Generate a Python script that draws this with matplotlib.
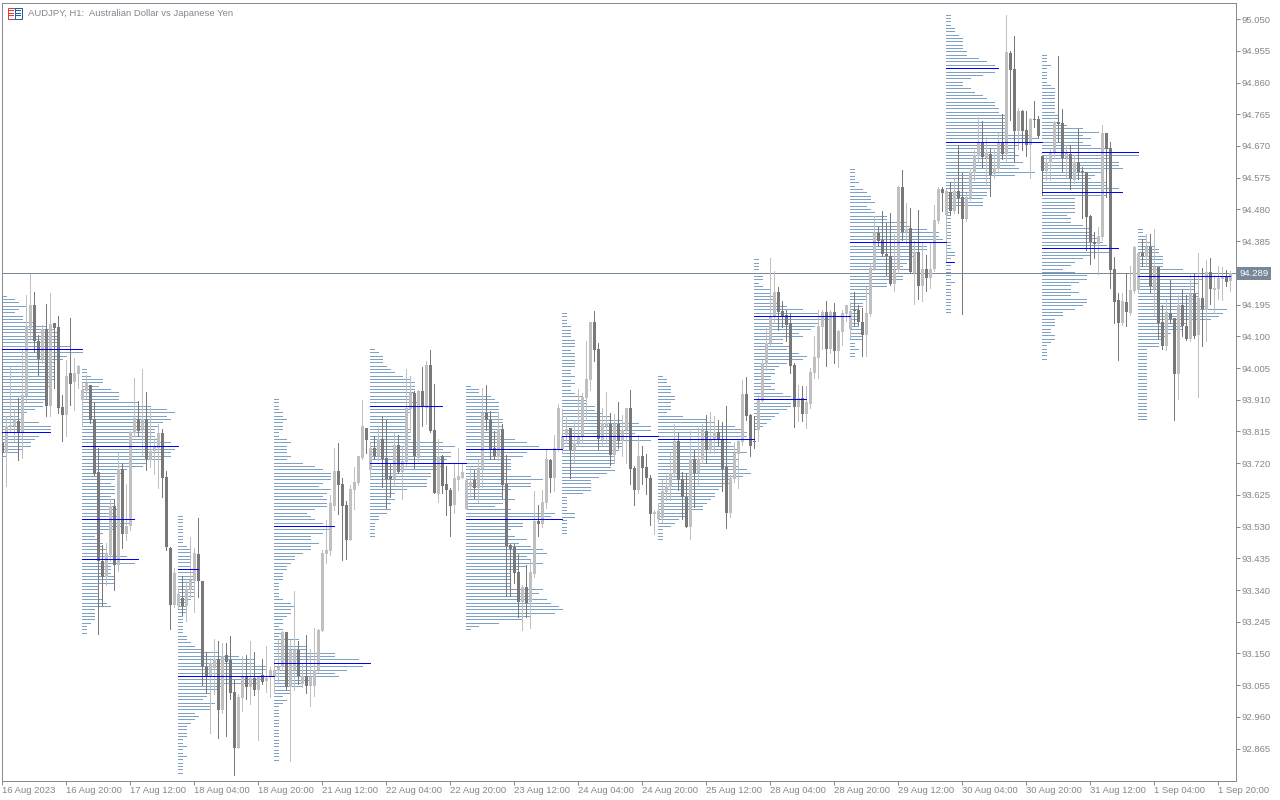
import matplotlib
matplotlib.use('Agg')
import matplotlib.pyplot as plt
from matplotlib.patches import Rectangle

plt.rcParams['font.family'] = ['Liberation Sans', 'DejaVu Sans']

# candle data, one hourly bar per entry
opens = [
    93.78, 93.75, 93.83, 93.83, 93.847, 93.81, 93.922, 94.125, 94.195, 94.087,
    94.032, 94.122, 93.89, 94.14, 94.129, 93.889, 93.865, 93.991, 93.962, 93.988,
    93.91, 93.937, 93.955, 93.852, 93.694, 93.428, 93.378, 93.446, 93.592, 93.416,
    93.702, 93.509, 93.531, 93.81, 93.853, 93.822, 93.852, 93.73, 93.755, 93.765,
    93.811, 93.679, 93.466, 93.296, 93.293, 93.316, 93.291, 93.341, 93.366, 93.449,
    93.368, 93.111, 93.081, 93.106, 93.133, 92.981, 93.146, 93.129, 93.035, 92.867,
    93.017, 93.081, 93.051, 93.078, 93.041, 93.085, 93.069, 93.081, 93.081, 93.099,
    93.111, 93.215, 93.049, 93.101, 93.161, 93.06, 93.083, 93.053, 93.053, 93.101,
    93.216, 93.449, 93.458, 93.592, 93.697, 93.658, 93.595, 93.49, 93.64, 93.661,
    93.736, 93.826, 93.70, 93.766, 93.74, 93.792, 93.736, 93.681, 93.672, 93.775,
    93.694, 93.724, 93.883, 93.93, 93.735, 93.937, 93.885, 94.015, 93.82, 93.628,
    93.742, 93.658, 93.64, 93.595, 93.67, 93.676, 93.583, 93.65, 93.67, 93.645,
    93.702, 93.87, 93.85, 93.766, 93.738, 93.823, 93.658, 93.475, 93.47, 93.394,
    93.305, 93.35, 93.303, 93.387, 93.547, 93.538, 93.60, 93.73, 93.676, 93.762,
    93.762, 93.805, 93.825, 93.758, 93.78, 93.798, 93.915, 93.97, 94.142, 94.063,
    93.79, 93.83, 93.838, 93.745, 93.838, 93.787, 93.818, 93.886, 93.706, 93.64,
    93.742, 93.709, 93.676, 93.568, 93.552, 93.555, 93.635, 93.65, 93.688, 93.787,
    93.672, 93.62, 93.528, 93.733, 93.69, 93.728, 93.817, 93.76, 93.79, 93.814,
    93.793, 93.71, 93.57, 93.672, 93.748, 93.784, 93.928, 93.865, 93.786, 93.82,
    93.907, 94.018, 94.08, 94.159, 94.233, 94.177, 94.163, 94.139, 94.014, 93.888,
    93.915, 93.867, 93.897, 93.989, 94.035, 94.129, 94.173, 94.062, 94.173, 94.056,
    94.113, 94.167, 94.122, 94.179, 94.179, 94.143, 94.104, 94.167, 94.302, 94.41,
    94.389, 94.347, 94.341, 94.257, 94.299, 94.548, 94.413, 94.425, 94.289, 94.353,
    94.251, 94.302, 94.275, 94.302, 94.446, 94.542, 94.464, 94.531, 94.475, 94.535,
    94.518, 94.451, 94.515, 94.588, 94.64, 94.68, 94.633, 94.647, 94.585, 94.601,
    94.68, 94.646, 94.949, 94.901, 94.715, 94.775, 94.718, 94.673, 94.75, 94.75,
    94.64, 94.595, 94.618, 94.649, 94.741, 94.739, 94.635, 94.646, 94.569, 94.621,
    94.593, 94.591, 94.46, 94.383, 94.376, 94.398, 94.709, 94.664, 94.301, 94.21,
    94.14, 94.204, 94.17, 94.237, 94.238, 94.35, 94.338, 94.367, 94.242, 94.307,
    94.142, 94.07, 94.17, 94.155, 93.988, 94.195, 94.132, 94.093, 94.228, 94.105,
    94.216, 94.18, 94.294, 94.24, 94.243, 94.272, 94.282, 94.265,
]
closes = [
    93.75, 93.83, 93.835, 93.848, 93.81, 93.924, 94.13, 94.195, 94.085, 94.032,
    94.122, 93.89, 94.137, 94.125, 93.886, 93.865, 93.982, 93.958, 93.991, 94.012,
    93.94, 93.96, 93.85, 93.688, 93.428, 93.378, 93.451, 93.592, 93.416, 93.702,
    93.509, 93.531, 93.813, 93.855, 93.817, 93.852, 93.732, 93.757, 93.767, 93.811,
    93.676, 93.468, 93.296, 93.391, 93.329, 93.291, 93.343, 93.371, 93.451, 93.366,
    93.109, 93.081, 93.123, 93.133, 92.981, 93.143, 93.126, 93.033, 92.867, 93.021,
    93.081, 93.051, 93.078, 93.041, 93.081, 93.066, 93.078, 93.101, 93.101, 93.111,
    93.213, 93.049, 93.161, 93.161, 93.083, 93.083, 93.053, 93.081, 93.101, 93.219,
    93.451, 93.461, 93.60, 93.697, 93.655, 93.592, 93.49, 93.643, 93.664, 93.74,
    93.832, 93.79, 93.766, 93.742, 93.792, 93.732, 93.672, 93.672, 93.775, 93.694,
    93.727, 93.885, 93.93, 93.74, 93.935, 93.888, 94.015, 93.817, 93.631, 93.742,
    93.652, 93.64, 93.592, 93.675, 93.682, 93.694, 93.67, 93.665, 93.646, 93.705,
    93.87, 93.85, 93.763, 93.74, 93.823, 93.655, 93.472, 93.463, 93.39, 93.305,
    93.35, 93.30, 93.393, 93.547, 93.538, 93.603, 93.733, 93.676, 93.765, 93.885,
    93.80, 93.823, 93.758, 93.78, 93.80, 93.918, 93.973, 94.142, 94.06, 93.792,
    93.84, 93.84, 93.745, 93.838, 93.785, 93.82, 93.886, 93.703, 93.64, 93.742,
    93.706, 93.676, 93.568, 93.574, 93.578, 93.638, 93.652, 93.69, 93.787, 93.67,
    93.618, 93.528, 93.733, 93.69, 93.732, 93.82, 93.76, 93.79, 93.814, 93.79,
    93.703, 93.57, 93.675, 93.75, 93.787, 93.928, 93.862, 93.772, 93.784, 93.91,
    94.02, 94.08, 94.16, 94.233, 94.173, 94.159, 94.134, 94.011, 93.888, 93.915,
    93.867, 93.903, 93.993, 94.039, 94.131, 94.173, 94.062, 94.173, 94.056, 94.116,
    94.169, 94.194, 94.176, 94.176, 94.143, 94.104, 94.169, 94.305, 94.409, 94.386,
    94.347, 94.339, 94.257, 94.299, 94.548, 94.413, 94.42, 94.293, 94.353, 94.251,
    94.302, 94.276, 94.302, 94.449, 94.542, 94.53, 94.534, 94.475, 94.535, 94.515,
    94.451, 94.518, 94.591, 94.643, 94.68, 94.638, 94.653, 94.583, 94.603, 94.68,
    94.646, 94.952, 94.898, 94.715, 94.775, 94.715, 94.673, 94.751, 94.747, 94.70,
    94.595, 94.621, 94.651, 94.741, 94.737, 94.635, 94.648, 94.571, 94.623, 94.591,
    94.591, 94.458, 94.381, 94.377, 94.40, 94.709, 94.661, 94.298, 94.203, 94.141,
    94.205, 94.172, 94.24, 94.367, 94.35, 94.34, 94.367, 94.25, 94.307, 94.14,
    94.07, 94.174, 94.152, 93.988, 94.195, 94.13, 94.093, 94.228, 94.102, 94.216,
    94.182, 94.294, 94.242, 94.245, 94.275, 94.278, 94.262, 94.29,
]
highs = [
    93.78, 93.862, 94.01, 93.88, 93.915, 94.06, 94.225, 94.288, 94.233, 94.105,
    94.135, 94.198, 94.23, 94.14, 94.162, 93.925, 94.03, 94.156, 94.036, 94.015,
    93.964, 93.985, 93.955, 93.904, 93.765, 93.476, 93.481, 93.612, 93.612, 93.75,
    93.72, 93.658, 93.816, 93.976, 93.907, 94.003, 93.934, 93.885, 93.795, 93.838,
    93.823, 93.697, 93.47, 93.406, 93.345, 93.381, 93.366, 93.499, 93.466, 93.556,
    93.368, 93.154, 93.135, 93.193, 93.186, 93.181, 93.18, 93.201, 93.071, 93.03,
    93.141, 93.146, 93.186, 93.154, 93.081, 93.134, 93.171, 93.111, 93.13, 93.191,
    93.216, 93.215, 93.191, 93.338, 93.186, 93.12, 93.206, 93.163, 93.227, 93.223,
    93.461, 93.551, 93.625, 93.766, 93.781, 93.676, 93.607, 93.655, 93.709, 93.742,
    93.91, 93.826, 93.781, 93.80, 93.826, 93.859, 93.85, 93.718, 93.811, 93.805,
    93.77, 94.003, 93.982, 93.937, 93.94, 94.009, 94.027, 94.06, 93.958, 93.793,
    93.745, 93.712, 93.645, 93.718, 93.766, 93.72, 93.675, 93.705, 93.70, 93.73,
    93.946, 93.955, 93.877, 93.817, 93.874, 93.838, 93.745, 93.478, 93.478, 93.448,
    93.355, 93.415, 93.43, 93.637, 93.595, 93.64, 93.76, 93.733, 93.805, 93.898,
    93.882, 93.862, 93.825, 93.848, 93.943, 93.93, 94.085, 94.142, 94.177, 94.081,
    93.885, 93.934, 93.87, 93.868, 93.904, 93.865, 93.886, 93.94, 93.712, 93.805,
    93.772, 93.748, 93.685, 93.58, 93.60, 93.67, 93.685, 93.75, 93.838, 93.81,
    93.694, 93.69, 93.817, 93.76, 93.825, 93.838, 93.865, 93.872, 93.86, 93.85,
    93.844, 93.892, 93.685, 93.784, 93.79, 93.97, 93.979, 93.868, 93.86, 93.925,
    94.028, 94.126, 94.335, 94.296, 94.248, 94.206, 94.179, 94.171, 94.02, 93.954,
    93.951, 93.951, 94.004, 94.101, 94.179, 94.179, 94.206, 94.179, 94.2, 94.119,
    94.179, 94.194, 94.204, 94.233, 94.194, 94.184, 94.249, 94.32, 94.461, 94.429,
    94.476, 94.439, 94.469, 94.407, 94.551, 94.599, 94.50, 94.484, 94.384, 94.479,
    94.379, 94.344, 94.379, 94.494, 94.546, 94.546, 94.54, 94.563, 94.57, 94.673,
    94.59, 94.528, 94.603, 94.658, 94.758, 94.745, 94.698, 94.663, 94.663, 94.708,
    94.766, 95.063, 94.955, 95.0, 94.783, 94.778, 94.775, 94.755, 94.805, 94.76,
    94.64, 94.643, 94.663, 94.745, 94.94, 94.781, 94.673, 94.673, 94.643, 94.721,
    94.606, 94.593, 94.463, 94.413, 94.428, 94.733, 94.709, 94.682, 94.336, 94.23,
    94.23, 94.29, 94.31, 94.37, 94.352, 94.392, 94.405, 94.405, 94.42, 94.307,
    94.195, 94.21, 94.27, 94.155, 94.225, 94.24, 94.225, 94.285, 94.29, 94.348,
    94.305, 94.328, 94.333, 94.285, 94.312, 94.307, 94.30, 94.295,
]
lows = [
    93.75, 93.652, 93.815, 93.785, 93.73, 93.736, 93.905, 94.095, 94.052, 93.985,
    94.02, 93.86, 93.86, 93.946, 93.87, 93.787, 93.80, 93.895, 93.88, 93.946,
    93.83, 93.915, 93.84, 93.685, 93.209, 93.293, 93.356, 93.426, 93.341, 93.396,
    93.466, 93.491, 93.52, 93.80, 93.802, 93.745, 93.70, 93.71, 93.688, 93.645,
    93.618, 93.461, 93.224, 93.29, 93.285, 93.266, 93.246, 93.32, 93.273, 93.318,
    93.056, 93.031, 92.913, 93.03, 92.897, 92.971, 92.903, 93.014, 92.786, 92.867,
    92.979, 93.014, 92.999, 93.026, 92.891, 93.059, 93.036, 93.021, 93.031, 93.066,
    93.10, 93.043, 92.829, 93.04, 93.059, 93.05, 93.033, 92.993, 93.023, 93.096,
    93.216, 93.421, 93.446, 93.58, 93.568, 93.43, 93.433, 93.49, 93.583, 93.655,
    93.733, 93.751, 93.679, 93.733, 93.73, 93.65, 93.586, 93.62, 93.655, 93.692,
    93.613, 93.71, 93.814, 93.706, 93.725, 93.832, 93.838, 93.814, 93.631, 93.604,
    93.632, 93.565, 93.502, 93.571, 93.64, 93.675, 93.583, 93.62, 93.616, 93.604,
    93.649, 93.82, 93.732, 93.732, 93.73, 93.617, 93.322, 93.322, 93.36, 93.26,
    93.22, 93.26, 93.225, 93.38, 93.502, 93.53, 93.585, 93.634, 93.637, 93.755,
    93.75, 93.78, 93.677, 93.724, 93.77, 93.78, 93.85, 93.938, 94.027, 93.762,
    93.77, 93.78, 93.715, 93.72, 93.765, 93.742, 93.722, 93.658, 93.595, 93.63,
    93.658, 93.628, 93.535, 93.508, 93.54, 93.545, 93.61, 93.61, 93.68, 93.64,
    93.553, 93.528, 93.493, 93.59, 93.652, 93.72, 93.72, 93.75, 93.75, 93.77,
    93.637, 93.526, 93.56, 93.665, 93.645, 93.775, 93.85, 93.742, 93.766, 93.786,
    93.90, 94.0, 94.07, 94.14, 94.119, 94.129, 94.086, 93.989, 93.829, 93.846,
    93.846, 93.825, 93.885, 93.975, 93.975, 94.062, 94.011, 94.05, 94.02, 94.008,
    94.074, 94.146, 94.095, 94.131, 94.134, 94.041, 94.041, 94.16, 94.299, 94.369,
    94.341, 94.284, 94.254, 94.236, 94.29, 94.389, 94.38, 94.293, 94.197, 94.212,
    94.206, 94.236, 94.245, 94.295, 94.44, 94.474, 94.323, 94.465, 94.468, 94.468,
    94.168, 94.445, 94.508, 94.568, 94.625, 94.608, 94.553, 94.52, 94.573, 94.588,
    94.63, 94.621, 94.748, 94.621, 94.661, 94.658, 94.641, 94.573, 94.728, 94.693,
    94.523, 94.568, 94.568, 94.633, 94.681, 94.596, 94.578, 94.541, 94.558, 94.57,
    94.455, 94.358, 94.318, 94.333, 94.288, 94.388, 94.518, 94.245, 94.141, 94.03,
    94.135, 94.132, 94.165, 94.23, 94.23, 94.312, 94.315, 94.232, 94.165, 94.096,
    94.063, 94.06, 94.14, 93.85, 93.913, 94.10, 94.09, 94.085, 94.095, 93.918,
    94.07, 94.085, 94.198, 94.17, 94.213, 94.21, 94.25, 94.235,
]

# daily profiles: first bar, top price, bars per 0.01 row, highlighted rows
profile_starts = [0, 20, 44, 68, 92, 116, 140, 164, 188, 212, 236, 260, 284]
profile_tops = [94.222, 94.002, 93.563, 93.912, 94.062, 93.952, 94.17, 93.982,
                94.331, 94.601, 95.063, 94.943, 94.421]
profile_peaks = [[16, 41], [23, 45, 57], [16, 48], [38, 79], [17, 34], [19, 40], [37],
                 [19], [17, 42], [22], [16, 38, 74], [29, 41, 58], [14]]
profile_01 = [1, 3, 4, 6, 4, 3, 5, 5, 8, 11, 13, 14, 14, 14, 14, 17, 20, 20, 16, 15, 13, 13, 13, 13,
              13, 13, 12, 12, 11, 11, 11, 11, 10, 10, 8, 6, 4, 5, 9, 12, 12, 12, 9, 8, 7, 7, 5, 4, 1]
profile_02 = [1, 1, 2, 5, 5, 4, 7, 9, 9, 9, 14, 17, 21, 23, 21, 22, 20, 19, 18, 18, 18, 19, 22, 24,
              23, 22, 22, 20, 16, 15, 11, 10, 8, 8, 7, 8, 8, 8, 7, 8, 8, 8, 9, 8, 9, 13, 12, 10, 8,
              5, 3, 4, 5, 5, 6, 6, 11, 14, 13, 7, 7, 7, 8, 8, 8, 4, 4, 4, 4, 5, 6, 7, 3, 3, 3, 3, 2,
              1, 1, 1]
profile_03 = [1, 1, 1, 1, 1, 1, 1, 1, 1, 2, 3, 3, 3, 3, 3, 3, 5, 4, 4, 4, 4, 4, 4, 4, 4, 3, 2, 2, 2,
              2, 1, 1, 1, 1, 1, 1, 2, 2, 3, 4, 6, 10, 15, 19, 19, 22, 22, 21, 24, 21, 20, 11, 10, 8,
              7, 6, 9, 8, 8, 4, 5, 4, 3, 2, 2, 2, 2, 1, 1, 2, 1, 1, 2, 1, 1, 1, 1, 1]
profile_04 = [1, 1, 1, 1, 2, 2, 3, 2, 2, 2, 1, 1, 3, 4, 3, 3, 3, 4, 3, 7, 10, 12, 14, 14, 14, 12, 11,
              14, 13, 12, 13, 13, 13, 10, 8, 9, 10, 12, 15, 14, 12, 9, 9, 11, 9, 9, 7, 5, 5, 4, 3,
              3, 2, 2, 2, 1, 1, 1, 1, 1, 2, 4, 5, 4, 4, 3, 2, 2, 1, 2, 2, 1, 6, 2, 8, 8, 15, 15, 21,
              24, 22, 18, 15, 16, 9, 7, 7, 4, 4, 2, 3, 2, 1, 1, 1, 1, 1, 1, 1, 1, 1, 1, 1, 1, 1, 1,
              1, 1, 1]
profile_05 = [1, 2, 3, 3, 3, 4, 5, 6, 8, 10, 11, 11, 11, 11, 10, 10, 12, 18, 10, 10, 9, 9, 9, 9, 10,
              10, 10, 10, 18, 21, 18, 20, 20, 19, 24, 18, 17, 15, 15, 14, 14, 14, 9, 6, 5, 6, 5, 4,
              5, 4, 2, 2, 1, 1, 1, 1, 1]
profile_06 = [1, 3, 3, 6, 7, 8, 8, 8, 8, 8, 9, 9, 9, 9, 8, 9, 12, 15, 18, 24, 15, 14, 11, 11, 11, 11,
              10, 16, 19, 16, 16, 11, 9, 9, 12, 9, 7, 11, 22, 21, 24, 14, 14, 11, 10, 12, 15, 13, 16,
              19, 20, 15, 16, 19, 15, 13, 11, 11, 11, 11, 11, 19, 18, 16, 20, 21, 23, 24, 22, 16, 14,
              8, 3, 1]
profile_07 = [1, 1, 1, 1, 2, 2, 2, 2, 3, 3, 3, 2, 3, 3, 3, 3, 3, 2, 2, 3, 2, 3, 2, 2, 3, 5, 6, 6, 8, 8,
              10, 12, 15, 19, 22, 22, 18, 24, 22, 15, 15, 14, 13, 13, 13, 13, 12, 13, 11, 9, 7, 7, 7,
              7, 5, 1, 1, 1, 1, 1, 3, 3, 1, 1, 1, 1, 1]
profile_08 = [1, 2, 2, 3, 3, 3, 4, 4, 3, 3, 3, 2, 6, 12, 14, 19, 21, 22, 22, 24, 18, 19, 20, 22, 19, 20,
              19, 20, 22, 23, 21, 18, 18, 16, 15, 14, 14, 13, 12, 11, 11, 7, 7, 5, 4, 3, 1, 1, 1, 1]
profile_09 = [1, 1, 1, 1, 1, 2, 2, 1, 2, 4, 4, 5, 5, 6, 8, 12, 16, 24, 19, 16, 15, 14, 11, 12, 7, 7, 9,
              8, 11, 13, 12, 8, 6, 5, 5, 4, 4, 5, 4, 5, 7, 9, 13, 9, 9, 8, 6, 5, 4, 3, 2, 1]
profile_10 = [1, 1, 1, 1, 2, 1, 3, 4, 5, 5, 6, 4, 5, 6, 9, 9, 14, 15, 19, 22, 22, 23, 24, 19, 19, 17, 16,
              15, 14, 13, 15, 16, 13, 13, 9, 9, 5, 5, 4, 4, 3, 3, 2, 2, 2, 2, 2, 2, 3, 3, 3, 3, 1, 1,
              2, 1, 1]
profile_11 = [1, 1, 1, 1, 2, 2, 3, 4, 4, 4, 4, 5, 5, 8, 10, 12, 13, 12, 9, 6, 4, 4, 6, 7, 9, 10, 12, 12,
              13, 13, 15, 15, 15, 15, 15, 15, 21, 23, 24, 18, 17, 17, 18, 17, 19, 17, 18, 22, 17, 11,
              11, 11, 11, 10, 10, 9, 9, 9, 2, 1, 1, 1, 1, 1, 1, 1, 1, 1, 1, 1, 1, 2, 2, 1, 2, 1, 1, 1,
              1, 1, 2, 1, 1, 1, 1, 1, 1, 1, 1, 1]
profile_12 = [1, 1, 1, 2, 1, 1, 1, 1, 1, 2, 3, 3, 3, 3, 3, 3, 3, 3, 4, 4, 4, 6, 10, 14, 10, 12, 10, 12, 17,
              24, 24, 17, 19, 19, 20, 15, 13, 12, 16, 16, 19, 20, 16, 8, 8, 8, 8, 8, 6, 7, 7, 10, 12,
              12, 13, 14, 15, 16, 19, 17, 12, 10, 8, 7, 5, 8, 11, 11, 9, 7, 7, 9, 7, 11, 11, 10, 8, 5,
              5, 3, 3, 3, 2, 2, 3, 3, 2, 1, 1, 1, 1, 1]
profile_13 = [1, 1, 2, 2, 3, 4, 5, 5, 6, 6, 6, 6, 11, 15, 23, 16, 15, 14, 14, 15, 15, 14, 15, 17, 22, 21,
              20, 18, 12, 11, 11, 8, 7, 6, 5, 5, 2, 2, 2, 2, 2, 2, 2, 2, 2, 2, 2, 2, 2, 2, 2, 2, 2, 2,
              2, 2, 2, 2]
profiles = [profile_01, profile_02, profile_03, profile_04, profile_05, profile_06, profile_07,
            profile_08, profile_09, profile_10, profile_11, profile_12, profile_13]

price_ticks = [95.05, 94.955, 94.86, 94.765, 94.67, 94.575, 94.48, 94.385, 94.29, 94.195,
               94.1, 94.005, 93.91, 93.815, 93.72, 93.625, 93.53, 93.435, 93.34, 93.245,
               93.15, 93.055, 92.96, 92.865]
time_labels = ['16 Aug 2023', '16 Aug 20:00', '17 Aug 12:00', '18 Aug 04:00', '18 Aug 20:00',
               '21 Aug 12:00', '22 Aug 04:00', '22 Aug 20:00', '23 Aug 12:00', '24 Aug 04:00',
               '24 Aug 20:00', '25 Aug 12:00', '28 Aug 04:00', '28 Aug 20:00', '29 Aug 12:00',
               '30 Aug 04:00', '30 Aug 20:00', '31 Aug 12:00', '1 Sep 04:00', '1 Sep 20:00']
last_price = 94.289

up_color = '#c0c0c0'
down_color = '#787878'
row_color = '#7da2c6'
frame_color = '#868c94'
text_color = '#85858d'
line_color = '#778899'
font_size = 6.8
px = 0.72  # one pixel in points at dpi 100

fig = plt.figure(figsize=(12.8, 8), dpi=100, facecolor='white')
ax = fig.add_axes([2 / 1280, 1 - 781 / 800, 1234 / 1280, 778 / 800])
ax.set_xlim(-0.075, 308.425)
ax.set_ylim(92.7681, 95.0982)

# profile rows behind everything
bar_left = -0.075
for start, top, counts, peaks in zip(profile_starts, profile_tops, profiles, profile_peaks):
    levels = [top - 0.01 * i for i in range(len(counts))]
    lefts = [start + bar_left] * len(counts)
    rights = [start + bar_left + c for c in counts]
    ax.hlines(levels, lefts, rights, colors=row_color, linewidth=px, zorder=1,
              antialiased=False, snap=True)
    ax.hlines([levels[i] for i in peaks], [lefts[i] for i in peaks], [rights[i] for i in peaks],
              colors='#0000ff', linewidth=px, zorder=5, antialiased=False, snap=True)

ax.axhline(last_price, color=line_color, linewidth=px, zorder=2, antialiased=False, snap=True)

# candles
bars = range(len(opens))
colors = [up_color if c >= o else down_color for o, c in zip(opens, closes)]
ax.vlines(bars, lows, highs, colors=colors, linewidth=px, zorder=3, antialiased=False, snap=True)
ax.bar(bars, [max(abs(c - o), 0.003) for o, c in zip(opens, closes)],
       bottom=[min(o, c) for o, c in zip(opens, closes)], width=0.75, color=colors,
       linewidth=0, zorder=4, antialiased=False)

for side in ax.spines.values():
    side.set_color(frame_color)
    side.set_linewidth(px)

ax.yaxis.tick_right()
ax.set_yticks(price_ticks)
# the 94.290 label sits under the last price tag
ax.set_yticklabels(['' if abs(p - last_price) < 0.005 else '%.3f' % p for p in price_ticks])
ax.set_xticks([16 * i for i in range(len(time_labels))])
ax.set_xticklabels(time_labels, ha='left')
ax.tick_params(axis='both', length=2.9, width=px, color=frame_color, labelcolor=text_color,
               labelsize=font_size)
ax.tick_params(axis='y', pad=1.2)
ax.tick_params(axis='x', pad=0.6)

# last price tag
fig.patches.append(Rectangle((1237 / 1280, 1 - 280 / 800), 34 / 1280, 13 / 800, transform=fig.transFigure,
                             facecolor=line_color, edgecolor='none', figure=fig))
fig.text(1254 / 1280, 1 - 273.5 / 800, '%.3f' % last_price, color='white', fontsize=font_size,
         ha='center', va='center')

# header
fig.text(28 / 1280, 1 - 14 / 800, 'AUDJPY, H1:  Australian Dollar vs Japanese Yen', color=text_color,
         fontsize=font_size, ha='left', va='center')
for x0, col in [(7.5, '#e03c31'), (15, '#1f5fa8')]:
    fig.patches.append(Rectangle((x0 / 1280, 1 - 19 / 800), 7 / 1280, 10.5 / 800, transform=fig.transFigure,
                                 facecolor='white', edgecolor=col, linewidth=px, figure=fig))
    for y0 in (11, 13.5, 16):
        fig.patches.append(Rectangle(((x0 + 1) / 1280, 1 - y0 / 800), 5 / 1280, 1 / 800,
                                     transform=fig.transFigure, facecolor=col, edgecolor='none', figure=fig))

fig.savefig('out.png', dpi=100)
